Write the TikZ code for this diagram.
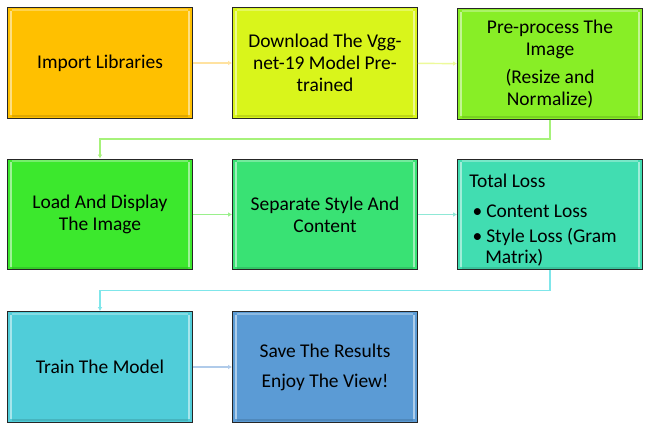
\documentclass[tikz,border=0pt]{standalone}
\usepackage{fontspec}
\setmainfont{Carlito}
\usetikzlibrary{arrows.meta,calc}
\definecolor{c1}{HTML}{FFC000}
\definecolor{c2}{HTML}{D9F51B}
\definecolor{c3}{HTML}{88EE26}
\definecolor{c4}{HTML}{3CE82D}
\definecolor{c5}{HTML}{39E274}
\definecolor{c6}{HTML}{41DDB1}
\definecolor{c7}{HTML}{50CDD9}
\definecolor{c8}{HTML}{5B9BD5}
\definecolor{a1}{HTML}{FFE2A0}
\definecolor{a2}{HTML}{EDFA9A}
\definecolor{a3}{HTML}{A6F27A}
\definecolor{a4}{HTML}{9AF08C}
\definecolor{a5}{HTML}{8FE8D6}
\definecolor{a6}{HTML}{7FE6EA}
\definecolor{a7}{HTML}{B0CBEA}
\tikzset{
  stepbox/.style={draw=black!85, line width=0.9pt, fill=#1, minimum width=138.5pt, minimum height=83pt,
    inner sep=0pt, align=center, font=\fontsize{14.6}{16.5}\selectfont,
    path picture={
      \fill[white,opacity=0.5] ([xshift=1.6pt,yshift=-2.5pt]path picture bounding box.north west) rectangle ([xshift=3.6pt,yshift=2.5pt]path picture bounding box.south west);
      \fill[white,opacity=0.5] ([xshift=-1.6pt,yshift=-2.5pt]path picture bounding box.north east) rectangle ([xshift=-3.6pt,yshift=2.5pt]path picture bounding box.south east);
      \fill[white,opacity=0.3] ([xshift=3.6pt,yshift=-1pt]path picture bounding box.north west) rectangle ([xshift=-3.6pt,yshift=-2.2pt]path picture bounding box.north east);
      \fill[black,opacity=0.12] ([xshift=3.6pt,yshift=1pt]path picture bounding box.south west) rectangle ([xshift=-3.6pt,yshift=2.2pt]path picture bounding box.south east);
    }},
  conn/.style={draw=#1, line width=1.1pt, -{Latex[length=3pt,width=3.5pt]}},
  elbow/.style={draw=#1, line width=0.8pt, -{Latex[length=3pt,width=3.5pt]}},
  txt/.style={inner sep=0pt, align=left, font=\fontsize{14.6}{16}\selectfont}
}
\begin{document}
\begin{tikzpicture}[x=0.75pt,y=-0.75pt]
\useasboundingbox[fill=white] (0,0) rectangle (652,438);
\node[stepbox=c1] (b1) at (100,63) {Import Libraries};
\node[stepbox=c2] (b2) at (325,63) {Download The Vgg-\\net-19 Model Pre-\\trained};
\node[stepbox=c3] (b3) at (550,64) {Pre-process The\\Image\\[5pt](Resize and\\Normalize)};
\node[stepbox=c4] (b4) at (100,214.5) {Load And Display\\The Image};
\node[stepbox=c5] (b5) at (325,214.5) {Separate Style And\\Content};
\node[stepbox=c6] (b6) at (550,214.5) {};
\node[txt, anchor=north west] (t6) at (469,174) {Total Loss\\[6.5pt]\kern2.5pt\textbullet\kern3pt Content Loss\\[2.5pt]\kern2.5pt\textbullet\kern3pt Style Loss (Gram\\\kern12pt Matrix)};
\node[stepbox=c7] (b7) at (100,367) {Train The Model};
\node[stepbox=c8] (b8) at (325,367) {Save The Results\\[6pt]Enjoy The View!};
\coordinate (m1) at (100,139);
\coordinate (m2) at (100,290.5);
\draw[conn=a1] (b1) -- (b2);
\draw[conn=a2] (b2) -- (b3);
\draw[elbow=a3] (b3.south) -- (b3.south |- m1) -| (b4.north);
\draw[conn=a4] (b4) -- (b5);
\draw[conn=a5] (b5) -- (b6);
\draw[elbow=a6] (b6.south) -- (b6.south |- m2) -| (b7.north);
\draw[conn=a7] (b7) -- (b8);
\end{tikzpicture}
\end{document}
